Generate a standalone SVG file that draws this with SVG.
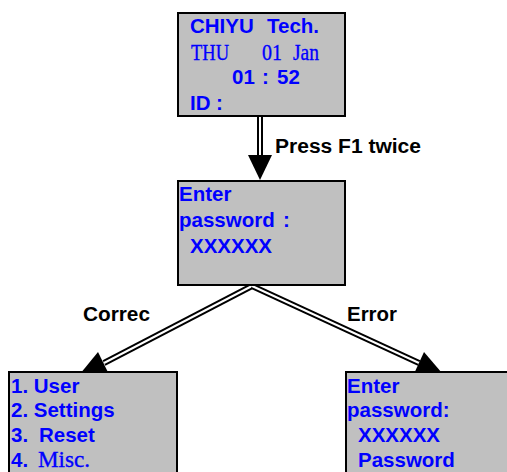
<svg xmlns="http://www.w3.org/2000/svg" width="507" height="472" viewBox="0 0 507 472">
<style>
.box{fill:#c0c0c0;stroke:#000;stroke-width:2}
.t{font-family:"Liberation Sans",Arial,sans-serif;font-weight:bold;font-size:20.5px;fill:#0000ff}
.s{font-family:"Liberation Serif","Times New Roman",serif;font-weight:normal;font-size:23px;fill:#0000ff;stroke:#0000ff;stroke-width:0.35}
.lbl{font-family:"Liberation Sans",Arial,sans-serif;font-weight:bold;font-size:20px;fill:#000}
.dbl{fill:none;stroke:#000;stroke-width:6}
.gap{fill:none;stroke:#fff;stroke-width:2}
.head{fill:#000}
</style>
<rect width="507" height="472" fill="#fff"/>
<g id="connectors">
  <line class="dbl" x1="260" y1="116" x2="260" y2="157"/>
  <line class="gap" x1="260" y1="116" x2="260" y2="157"/>
  <polygon class="head" points="248,155 272,155 260,180"/>
  <line class="dbl" x1="252" y1="286" x2="104" y2="363"/>
  <line class="gap" x1="252" y1="286" x2="104" y2="363"/>
  <polygon class="head" points="80,374 98,352 108.6,373.5"/>
  <line class="dbl" x1="252" y1="286" x2="419" y2="363"/>
  <line class="gap" x1="252" y1="286" x2="419" y2="363"/>
  <polygon class="head" points="442.6,373.8 424,352 414,373.8"/>
  <text class="lbl" x="275" y="153" textLength="146" lengthAdjust="spacingAndGlyphs">Press F1 twice</text>
  <text class="lbl" x="83" y="321" textLength="67" lengthAdjust="spacingAndGlyphs">Correc</text>
  <text class="lbl" x="347" y="321" textLength="50" lengthAdjust="spacingAndGlyphs">Error</text>
</g>
<g id="node-home">
  <rect class="box" x="178" y="13" width="167" height="103"/>
  <text class="t" x="190" y="33">CHIYU</text>
  <text class="t" x="267" y="33">Tech.</text>
  <text class="s" x="191" y="60" textLength="38" lengthAdjust="spacingAndGlyphs">THU</text>
  <text class="s" x="262" y="60" textLength="20" lengthAdjust="spacingAndGlyphs">01</text>
  <text class="s" x="293" y="60" textLength="26" lengthAdjust="spacingAndGlyphs">Jan</text>
  <text class="t" x="232" y="84">01</text>
  <text class="t" x="262" y="84">:</text>
  <text class="t" x="277" y="84">52</text>
  <text class="t" x="190" y="110">ID</text>
  <text class="t" x="216" y="110">:</text>
</g>
<g id="node-password">
  <rect class="box" x="178" y="181" width="167" height="104"/>
  <text class="t" x="179" y="201">Enter</text>
  <text class="t" x="179" y="227">password</text>
  <text class="t" x="283" y="227">:</text>
  <text class="t" x="190" y="253">XXXXXX</text>
</g>
<g id="node-menu">
  <rect class="box" x="9" y="372" width="168" height="110"/>
  <text class="t" x="11" y="393">1. User</text>
  <text class="t" x="11" y="417">2. Settings</text>
  <text class="t" x="11" y="442">3.</text>
  <text class="t" x="39" y="442">Reset</text>
  <text class="t" x="11" y="467">4.</text>
  <text class="s" x="38" y="467" textLength="52" lengthAdjust="spacingAndGlyphs">Misc.</text>
</g>
<g id="node-error">
  <rect class="box" x="346" y="372" width="180" height="110"/>
  <text class="t" x="347" y="393">Enter</text>
  <text class="t" x="347" y="417">password:</text>
  <text class="t" x="358" y="442">XXXXXX</text>
  <text class="t" x="358" y="467">Password</text>
</g>
</svg>
